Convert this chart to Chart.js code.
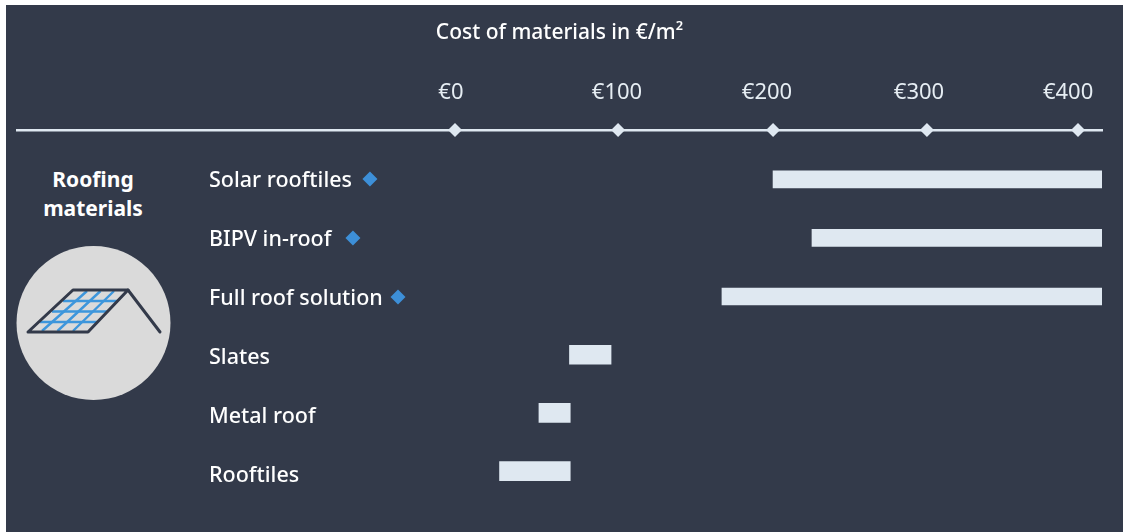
<!DOCTYPE html>
<html>
<head>
<meta charset="utf-8">
<script src="https://cdn.jsdelivr.net/npm/chart.js@4"></script>
<style>
  html, body { margin: 0; padding: 0; background: #fff; }
  #page { position: relative; width: 1123px; height: 532px; overflow: hidden; }
  #panel { position: absolute; left: 6px; top: 5px; right: 0; bottom: 0; background: #333a4a; }
  #heading { position: absolute; left: 13px; top: 165px; width: 160px; text-align: center;
    font: 700 21px/29px "Noto Sans", sans-serif; color: #fff; }
  #icon { position: absolute; left: 0; top: 0; }
  canvas { position: absolute; left: 0; top: 0; }
</style>
</head>
<body>
<div id="page">
  <div id="panel"></div>
  <svg id="icon" width="200" height="420" viewBox="0 0 200 420">
    <circle cx="93.5" cy="323" r="77" fill="#dadada"/>
    <g stroke="#3d96dc" stroke-width="2.4" fill="none">
      <path d="M63 301H118M52 311.500H108M40 322H97"/>
      <path d="M42 331L87 291M57.500 331L100.500 291M73 331L114 291"/>
    </g>
    <path d="M28 332L73 290H128L88 332Z" fill="none" stroke="#333a4a" stroke-width="3" stroke-linejoin="round"/>
    <path d="M128 290L160 332" fill="none" stroke="#333a4a" stroke-width="3" stroke-linecap="round"/>
  </svg>
  <div id="heading">Roofing<br>materials</div>
  <canvas id="chart" width="1123" height="532"></canvas>
</div>
<script>
const categories = ['Solar rooftiles', 'BIPV in-roof', 'Full roof solution', 'Slates', 'Metal roof', 'Rooftiles'];
const labelRows = [0.02, 1.01, 2.02, 3.03, 4.02, 5.03];

const solarRows = [-0.01, 0.985, 1.98];
const solarLow = [204.2, 229.2, 171.4];
const solarHigh = [415.4, 415.4, 415.4];

const conventionalRows = [2.97, 3.96, 4.95];
const conventionalLow = [73.5, 53.9, 28.6];
const conventionalHigh = [100.2, 74, 74];

const markerRows = [-0.015, 0.985, 1.99];
const markerValues = [-54.6, -65.5, -36.6];

const tickLabels = ['€0', '€100', '€200', '€300', '€400'];
const tickLabelValues = [-2.6, 104, 200.3, 297.9, 393.6];
const tickMarkValues = [0, 104.7, 204.2, 303, 400];

const xMin = -281.2;
const xMax = 415.4;
const axisRow = -0.85;
const yMax = 5.78;

const barColor = '#dfe8f1';
const textFont = '"Noto Sans", sans-serif';

const toRanges = (rows, low, high) => rows.map((row, i) => ({ x: [low[i], high[i]], y: row }));

// tick padding also ends up in the scale's margins, which would squeeze the plot
const clearPadding = scale => {
  scale.paddingTop = scale.paddingBottom = scale.paddingLeft = scale.paddingRight = 0;
};

new Chart(document.getElementById('chart').getContext('2d'), {
  type: 'bar',
  data: {
    datasets: [
      { data: toRanges(solarRows, solarLow, solarHigh), backgroundColor: barColor, barThickness: 17, grouped: false },
      { data: toRanges(conventionalRows, conventionalLow, conventionalHigh), backgroundColor: barColor, barThickness: 19, grouped: false },
      {
        type: 'scatter',
        data: markerValues.map((v, i) => ({ x: v, y: markerRows[i] })),
        pointStyle: 'rectRot', pointRadius: 7.5, backgroundColor: '#3d8fd8', borderWidth: 0, clip: false
      },
      {
        type: 'scatter',
        data: tickMarkValues.map(v => ({ x: v, y: axisRow })),
        pointStyle: 'rectRot', pointRadius: 7, backgroundColor: barColor, borderWidth: 0, clip: false
      }
    ]
  },
  options: {
    indexAxis: 'y',
    responsive: false,
    animation: false,
    layout: { padding: { left: 17, right: 21, top: 0, bottom: 12 } },
    plugins: {
      legend: { display: false },
      tooltip: { enabled: false },
      title: {
        display: true,
        text: 'Cost of materials in €/m²',
        color: '#ffffff',
        font: { family: textFont, size: 21, weight: 500, lineHeight: '24px' },
        padding: { top: 21, bottom: 9 }
      }
    },
    scales: {
      x: {
        type: 'linear',
        position: 'top',
        min: xMin,
        max: xMax,
        afterFit: scale => { scale.height = 76; clearPadding(scale); },
        afterBuildTicks: scale => { scale.ticks = tickLabelValues.map(v => ({ value: v })); },
        grid: { display: false, drawTicks: false },
        border: { display: true, color: barColor, width: 2.5 },
        ticks: {
          autoSkip: false,
          maxRotation: 0,
          padding: 24,
          color: '#e6edf3',
          font: { family: textFont, size: 22 },
          callback: (v, i) => tickLabels[i]
        }
      },
      y: {
        type: 'linear',
        reverse: true,
        offset: false,
        min: axisRow,
        max: yMax,
        afterFit: scale => { scale.width = 0; clearPadding(scale); },
        afterBuildTicks: scale => { scale.ticks = labelRows.map(v => ({ value: v })); },
        grid: { display: false, drawTicks: false },
        border: { display: false },
        ticks: {
          mirror: true,
          autoSkip: false,
          padding: 192,
          color: '#ffffff',
          font: { family: textFont, size: 21.5, weight: 500 },
          callback: (v, i) => categories[i]
        }
      }
    }
  }
});
</script>
</body>
</html>
